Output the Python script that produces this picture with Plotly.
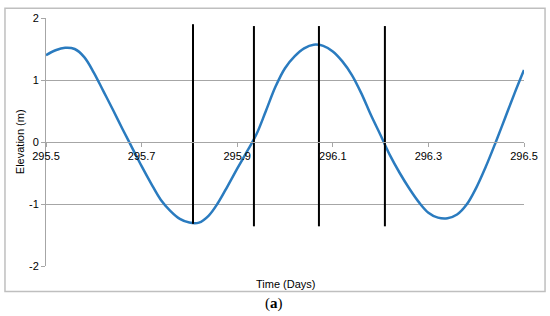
import plotly.graph_objects as go

# Tidal elevation series
time_days = [295.50, 295.52, 295.54, 295.56, 295.58, 295.60, 295.62, 295.64, 295.66, 295.68,
             295.70, 295.72, 295.74, 295.76, 295.78, 295.80, 295.82, 295.84, 295.86, 295.88,
             295.90, 295.92, 295.94, 295.96, 295.98, 296.00, 296.02, 296.04, 296.06, 296.08,
             296.10, 296.12, 296.14, 296.16, 296.18, 296.20, 296.22, 296.24, 296.26, 296.28,
             296.30, 296.32, 296.34, 296.36, 296.38, 296.40, 296.42, 296.44, 296.46, 296.48,
             296.50]
elevation = [1.40, 1.48, 1.52, 1.50, 1.37, 1.12, 0.82, 0.52, 0.21, -0.09,
             -0.39, -0.67, -0.93, -1.11, -1.24, -1.30, -1.30, -1.19, -0.98, -0.71,
             -0.43, -0.16, 0.12, 0.50, 0.89, 1.19, 1.38, 1.51, 1.57, 1.55,
             1.46, 1.30, 1.08, 0.78, 0.43, 0.11, -0.22, -0.50, -0.75, -0.97,
             -1.14, -1.22, -1.23, -1.17, -1.01, -0.74, -0.40, -0.02, 0.38, 0.78,
             1.16]

# Vertical marker lines (time, top, bottom)
marker_times = [295.8075, 295.935, 296.071, 296.209]
marker_tops = [1.90, 1.87, 1.87, 1.87]
marker_bottoms = [-1.32, -1.36, -1.36, -1.36]

y_ticks = [-2, -1, 0, 1, 2]
y_tick_labels = ["-2", "-1", "0", "1", "2"]

vx, vy = [], []
for t, top, bot in zip(marker_times, marker_tops, marker_bottoms):
    vx += [t, t, None]
    vy += [top, bot, None]

fig = go.Figure()

fig.add_trace(go.Scatter(
    x=time_days, y=elevation, mode='lines',
    line=dict(color='#2A7BBF', width=2.5, shape='spline', smoothing=1.0),
    showlegend=False
))

fig.add_trace(go.Scatter(
    x=vx, y=vy, mode='lines',
    line=dict(color='#000000', width=2),
    showlegend=False
))

grid = '#A6A6A6'

fig.update_layout(
    width=550, height=316,
    paper_bgcolor='white', plot_bgcolor='white',
    font=dict(family='Liberation Sans, Arial', size=11, color='#000000'),
    margin=dict(l=46, r=26, t=14, b=50),
    showlegend=False,
    xaxis=dict(
        range=[295.5, 296.5], tick0=295.5, dtick=0.2, tickformat='.1f',
        showgrid=False, zeroline=False,
        showline=True, linecolor=grid, linewidth=1,
        ticks='outside', ticklen=4, tickcolor=grid,
        anchor='free', position=0.5,
    ),
    yaxis=dict(
        range=[-2, 2], tickvals=y_ticks, ticktext=y_tick_labels,
        showgrid=True, gridcolor=grid, gridwidth=1, zeroline=False,
        showline=True, linecolor=grid, linewidth=1,
        ticks='outside', ticklen=4, tickcolor=grid,
    ),
    shapes=[dict(
        type='rect', xref='paper', yref='paper',
        x0=-0.0858, x1=1.044, y0=-0.103, y1=1.0397,
        line=dict(color='#BFBFBF', width=1.5), fillcolor='rgba(0,0,0,0)', layer='below'
    )],
    annotations=[
        dict(text='Time (Days)', xref='paper', yref='paper', x=0.5, y=-0.04,
             showarrow=False, xanchor='center', yanchor='top',
             font=dict(size=11)),
        dict(text='Elevation (m)', xref='paper', yref='paper', x=-0.054, y=0.5,
             showarrow=False, textangle=-90, xanchor='center', yanchor='middle',
             font=dict(size=11)),
        dict(text='(<b>a</b>)', xref='paper', yref='paper', x=0.478, y=-0.151,
             showarrow=False, xanchor='center', yanchor='middle',
             font=dict(family='Liberation Serif, DejaVu Serif', size=15)),
    ],
)

# drop the default 8px page margin so the figure sits at the window's corner
fig.write_html("out.html", config={'displayModeBar': False},
               post_script="document.body.style.margin='0';")
